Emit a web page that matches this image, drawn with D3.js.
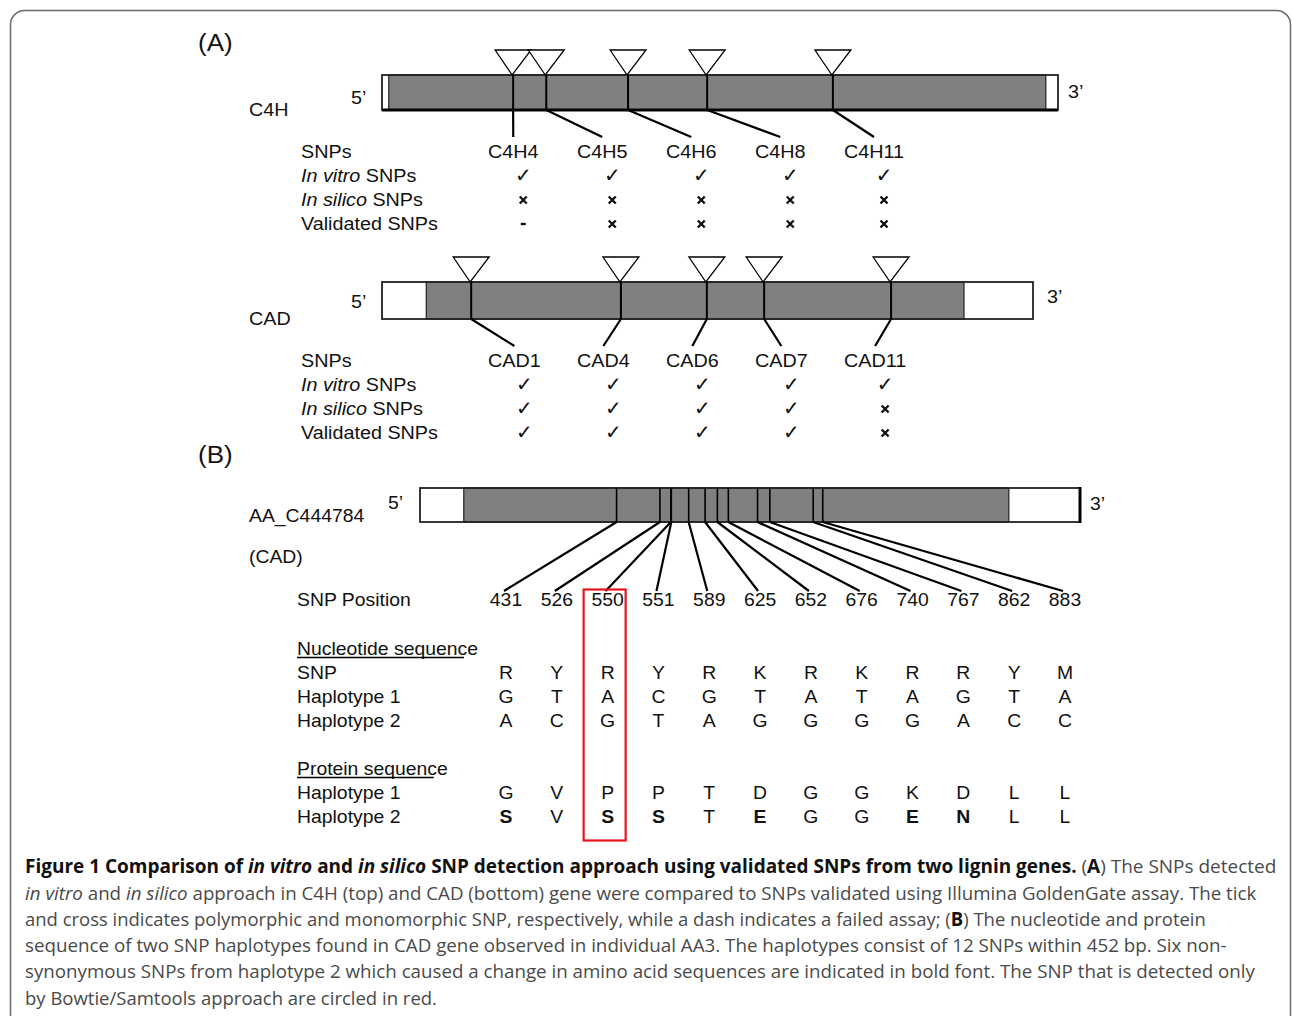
<!DOCTYPE html>
<html><head><meta charset="utf-8">
<script src="https://cdn.jsdelivr.net/npm/d3@7"></script>
<style>html,body{margin:0;padding:0;background:#fff}</style>
</head><body>
<svg id="fig" width="1292" height="1016"></svg>
<script>
// ---------------- data ----------------
// (A) C4H gene model: SNP sites as % of gene length, UTR boundaries as % too
const c4hSnps       = ["C4H4", "C4H5", "C4H6", "C4H8", "C4H11"];
const c4hSnpPos     = [19.4, 24.3, 36.4, 48.1, 66.7];
const c4hCds        = [1.0, 98.2];
const c4hInVitro    = ["tick", "tick", "tick", "tick", "tick"];
const c4hInSilico   = ["cross", "cross", "cross", "cross", "cross"];
const c4hValidated  = ["dash", "cross", "cross", "cross", "cross"];

// (A) CAD gene model
const cadSnps       = ["CAD1", "CAD4", "CAD6", "CAD7", "CAD11"];
const cadSnpPos     = [13.7, 36.7, 49.9, 58.7, 78.2];
const cadCds        = [6.8, 89.4];
const cadInVitro    = ["tick", "tick", "tick", "tick", "tick"];
const cadInSilico   = ["tick", "tick", "tick", "tick", "cross"];
const cadValidated  = ["tick", "tick", "tick", "tick", "cross"];

// (B) contig AA_C444784 (CAD), positions in bp
const contigLength  = 1447;
const contigCds     = [96, 1291];
const snpPositions  = [431, 526, 550, 551, 589, 625, 652, 676, 740, 767, 862, 883];
const snpCode       = ["R", "Y", "R", "Y", "R", "K", "R", "K", "R", "R", "Y", "M"];
const nucHap1       = ["G", "T", "A", "C", "G", "T", "A", "T", "A", "G", "T", "A"];
const nucHap2       = ["A", "C", "G", "T", "A", "G", "G", "G", "G", "A", "C", "C"];
const protHap1      = ["G", "V", "P", "P", "T", "D", "G", "G", "K", "D", "L", "L"];
const protHap2      = ["S", "V", "S", "S", "T", "E", "G", "G", "E", "N", "L", "L"];
const bowtieOnly    = [550];

// caption lines: each is a list of [text, style] runs
const captionLines = [
  [["Figure 1 Comparison of ", "b"], ["in vitro", "bi"], [" and ", "b"], ["in silico", "bi"],
   [" SNP detection approach using validated SNPs from two lignin genes.", "b"], [" (", "n"], ["A", "b"], [") The SNPs detected", "n"]],
  [["in vitro", "i"], [" and ", "n"], ["in silico", "i"], [" approach in C4H (top) and CAD (bottom) gene were compared to SNPs validated using Illumina GoldenGate assay. The tick", "n"]],
  [["and cross indicates polymorphic and monomorphic SNP, respectively, while a dash indicates a failed assay; (", "n"], ["B", "b"], [") The nucleotide and protein", "n"]],
  [["sequence of two SNP haplotypes found in CAD gene observed in individual AA3. The haplotypes consist of 12 SNPs within 452 bp. Six non-", "n"]],
  [["synonymous SNPs from haplotype 2 which caused a change in amino acid sequences are indicated in bold font. The SNP that is detected only", "n"]],
  [["by Bowtie/Samtools approach are circled in red.", "n"]]
];
const captionEnds = [1277, 1257, 1207, 1228, 1256, 437];

// ---------------- drawing ----------------
const svg = d3.select("#fig");
const FIG_FONT = "'Liberation Sans', Arial, Helvetica, sans-serif";
const CAP_FONT = "'Open Sans', 'Noto Sans', sans-serif";

// text helper: runs of [text, style]; style letters b = bold, i = italic
function txt(g, x, y, runs, o = {}) {
  if (typeof runs === "string") runs = [[runs, o.style || "n"]];
  const t = g.append("text")
    .attr("transform", `translate(${x},${y}) scale(${o.sx || 1},1)`)
    .attr("font-family", o.font || FIG_FONT)
    .attr("font-size", o.size || 17.5)
    .attr("text-anchor", o.anchor || "start")
    .attr("fill", o.fill || "#111");
  runs.forEach(([s, st]) => {
    t.append("tspan").text(s)
      .attr("font-weight", st.includes("b") ? "bold" : "normal")
      .attr("font-style", st.includes("i") ? "italic" : "normal")
      .attr("fill", st.includes("b") && o.boldFill ? o.boldFill : null);
  });
  return t;
}

// frame
svg.append("rect").attr("x", 10.5).attr("y", 10.5).attr("width", 1280).attr("height", 1100)
  .attr("rx", 14).attr("fill", "none").attr("stroke", "#6a6a6a").attr("stroke-width", 1.5);

const A_SIZE = 17.5, A_SX = 1.13;
const gA = svg.append("g");
txt(gA, 198, 51, "(A)", { size: 23, sx: A_SX });

// one gene model with SNP table
function geneBlock(cfg) {
  const g = gA.append("g");
  const x = d3.scaleLinear().domain([0, 100]).range(cfg.xr);
  const [y0, y1] = cfg.yr;
  txt(g, 249, cfg.nameY, cfg.name, { size: A_SIZE, sx: A_SX });
  txt(g, 351, cfg.fiveY, "5\u2019", { size: A_SIZE, sx: A_SX });
  txt(g, cfg.threeX, cfg.threeY, "3\u2019", { size: A_SIZE, sx: A_SX });

  g.append("rect").attr("x", x(0)).attr("y", y0).attr("width", x(100) - x(0)).attr("height", y1 - y0)
    .attr("fill", "#fff");
  g.append("rect").attr("x", x(cfg.cds[0])).attr("y", y0).attr("width", x(cfg.cds[1]) - x(cfg.cds[0]))
    .attr("height", y1 - y0).attr("fill", "#808080").attr("stroke", "#222").attr("stroke-width", 1.2);
  g.append("rect").attr("x", x(0)).attr("y", y0).attr("width", x(100) - x(0)).attr("height", y1 - y0)
    .attr("fill", "none").attr("stroke", "#222").attr("stroke-width", 1.8);
  if (cfg.thickBase) g.append("line").attr("x1", x(0)).attr("x2", x(100)).attr("y1", y1).attr("y2", y1)
    .attr("stroke", "#000").attr("stroke-width", 3);

  // SNP site lines and markers
  g.selectAll(".site").data(cfg.pos).join("line")
    .attr("x1", d => x(d)).attr("x2", d => x(d)).attr("y1", y0).attr("y2", y1)
    .attr("stroke", "#000").attr("stroke-width", 2);
  g.selectAll(".tri").data(cfg.pos).join("path")
    .attr("d", d => `M${x(d) - 18},${y0 - 25}L${x(d) + 18},${y0 - 25}L${x(d) - 1},${y0}Z`)
    .attr("fill", "#fff").attr("stroke", "#000").attr("stroke-width", 1.3);

  // SNP names and table
  const col = d3.scalePoint().domain(cfg.snps).range([488, 844]);
  const rows = [cfg.labelY, cfg.labelY + 24, cfg.labelY + 48, cfg.labelY + 72];
  txt(g, 301, rows[0], "SNPs", { size: A_SIZE, sx: A_SX });
  txt(g, 301, rows[1], [["In vitro", "i"], [" SNPs", "n"]], { size: A_SIZE, sx: A_SX });
  txt(g, 301, rows[2], [["In silico", "i"], [" SNPs", "n"]], { size: A_SIZE, sx: A_SX });
  txt(g, 301, rows[3], "Validated SNPs", { size: A_SIZE, sx: A_SX });

  cfg.snps.forEach((name, i) => {
    const t = txt(g, col(name), rows[0], name, { size: A_SIZE, sx: A_SX });
    const cx = col(name) + t.node().getComputedTextLength() * A_SX / 2;
    g.append("line").attr("x1", x(cfg.pos[i])).attr("y1", y1).attr("x2", cx).attr("y2", rows[0] - 21)
      .attr("stroke", "#000").attr("stroke-width", 2.2);
    const mx = cx + 10;
    [cfg.vitro[i], cfg.silico[i], cfg.valid[i]].forEach((m, r) => {
      const by = rows[r + 1];
      if (m === "tick") {
        g.append("text").attr("x", mx).attr("y", by).attr("text-anchor", "middle")
          .attr("font-family", "'DejaVu Sans', sans-serif").attr("font-size", 20).attr("fill", "#111").text("\u2713");
      } else if (m === "cross") {
        g.append("path").attr("d", `M${mx - 3.5},${by - 9.5}L${mx + 3.5},${by - 2.5}M${mx + 3.5},${by - 9.5}L${mx - 3.5},${by - 2.5}`)
          .attr("stroke", "#111").attr("stroke-width", 2.4);
      } else {
        g.append("line").attr("x1", mx - 2.5).attr("x2", mx + 2.5).attr("y1", by - 6).attr("y2", by - 6)
          .attr("stroke", "#111").attr("stroke-width", 2.4);
      }
    });
  });
}

geneBlock({ name: "C4H", nameY: 116, fiveY: 104, threeX: 1068, threeY: 98, xr: [382, 1058], yr: [75, 110],
  cds: c4hCds, pos: c4hSnpPos, snps: c4hSnps, labelY: 158, thickBase: true,
  vitro: c4hInVitro, silico: c4hInSilico, valid: c4hValidated });
geneBlock({ name: "CAD", nameY: 325, fiveY: 308, threeX: 1047, threeY: 303, xr: [382, 1033], yr: [282, 319],
  cds: cadCds, pos: cadSnpPos, snps: cadSnps, labelY: 367,
  vitro: cadInVitro, silico: cadInSilico, valid: cadValidated });

// ---------------- (B) haplotypes ----------------
const B_SIZE = 19, B_SX = 1.02;
const gB = svg.append("g");
txt(gB, 198, 463, "(B)", { size: 23, sx: A_SX });
txt(gB, 249, 522, "AA_C444784", { size: B_SIZE, sx: B_SX });
txt(gB, 249, 563, "(CAD)", { size: B_SIZE, sx: B_SX });
txt(gB, 388, 509, "5\u2019", { size: B_SIZE, sx: B_SX });
txt(gB, 1090, 510, "3\u2019", { size: B_SIZE, sx: B_SX });

const xb = d3.scaleLinear().domain([0, contigLength]).range([420, 1080]);
const by0 = 488, by1 = 522;
gB.append("rect").attr("x", xb(0)).attr("y", by0).attr("width", xb(contigLength) - xb(0)).attr("height", by1 - by0)
  .attr("fill", "#fff");
gB.append("rect").attr("x", xb(contigCds[0])).attr("y", by0).attr("width", xb(contigCds[1]) - xb(contigCds[0]))
  .attr("height", by1 - by0).attr("fill", "#808080").attr("stroke", "#222").attr("stroke-width", 1.2);
gB.append("rect").attr("x", xb(0)).attr("y", by0).attr("width", xb(contigLength) - xb(0)).attr("height", by1 - by0)
  .attr("fill", "none").attr("stroke", "#222").attr("stroke-width", 1.8);
gB.append("line").attr("x1", xb(contigLength)).attr("x2", xb(contigLength)).attr("y1", by0 - 1).attr("y2", by1 + 1)
  .attr("stroke", "#000").attr("stroke-width", 3);
gB.selectAll(".bsite").data(snpPositions).join("line")
  .attr("x1", d => xb(d)).attr("x2", d => xb(d)).attr("y1", by0).attr("y2", by1)
  .attr("stroke", "#000").attr("stroke-width", 1.6);

const colB = d3.scalePoint().domain(snpPositions).range([506, 1065]);
gB.selectAll(".blead").data(snpPositions).join("line")
  .attr("x1", d => xb(d)).attr("y1", by1).attr("x2", d => colB(d) - 2).attr("y2", 591)
  .attr("stroke", "#000").attr("stroke-width", 2.2);

txt(gB, 297, 606, "SNP Position", { size: B_SIZE, sx: B_SX });
snpPositions.forEach(p => txt(gB, colB(p), 606, String(p), { size: B_SIZE, sx: B_SX, anchor: "middle" }));

function heading(y, s) {
  const t = txt(gB, 297, y, s, { size: B_SIZE, sx: B_SX });
  const w = t.node().getComputedTextLength() * B_SX;
  gB.append("line").attr("x1", 297).attr("x2", 297 + w - 14).attr("y1", y + 2.5).attr("y2", y + 2.5)
    .attr("stroke", "#000").attr("stroke-width", 1.4);
}
function seqRow(y, label, letters, boldIf) {
  txt(gB, 297, y, label, { size: B_SIZE, sx: B_SX });
  letters.forEach((c, i) => txt(gB, colB(snpPositions[i]), y, c,
    { size: B_SIZE, sx: B_SX, anchor: "middle", style: boldIf && boldIf(i) ? "b" : "n" }));
}
heading(655, "Nucleotide sequence");
seqRow(679.3, "SNP", snpCode);
seqRow(703.3, "Haplotype 1", nucHap1);
seqRow(727.3, "Haplotype 2", nucHap2);
heading(775, "Protein sequence");
seqRow(799.3, "Haplotype 1", protHap1);
seqRow(823.3, "Haplotype 2", protHap2, i => protHap2[i] !== protHap1[i]);

// SNP found only by the Bowtie/Samtools pipeline
gB.selectAll(".hl").data(bowtieOnly).join("rect")
  .attr("x", d => colB(d) - 24).attr("y", 589.5).attr("width", 42).attr("height", 251)
  .attr("fill", "none").attr("stroke", "#e8141b").attr("stroke-width", 2.2);

// ---------------- caption ----------------
const capBase = [873, 899.5, 925.8, 952, 978.3, 1004.6];
captionLines.forEach((runs, i) => {
  const t = txt(svg, 25, capBase[i], runs, { size: 19, font: CAP_FONT, fill: "#4a4a4a", boldFill: "#111" });
  const w = t.node().getComputedTextLength();
  t.attr("transform", `translate(25,${capBase[i]}) scale(${(captionEnds[i] - 25) / w},1)`);
});
</script>
</body></html>
